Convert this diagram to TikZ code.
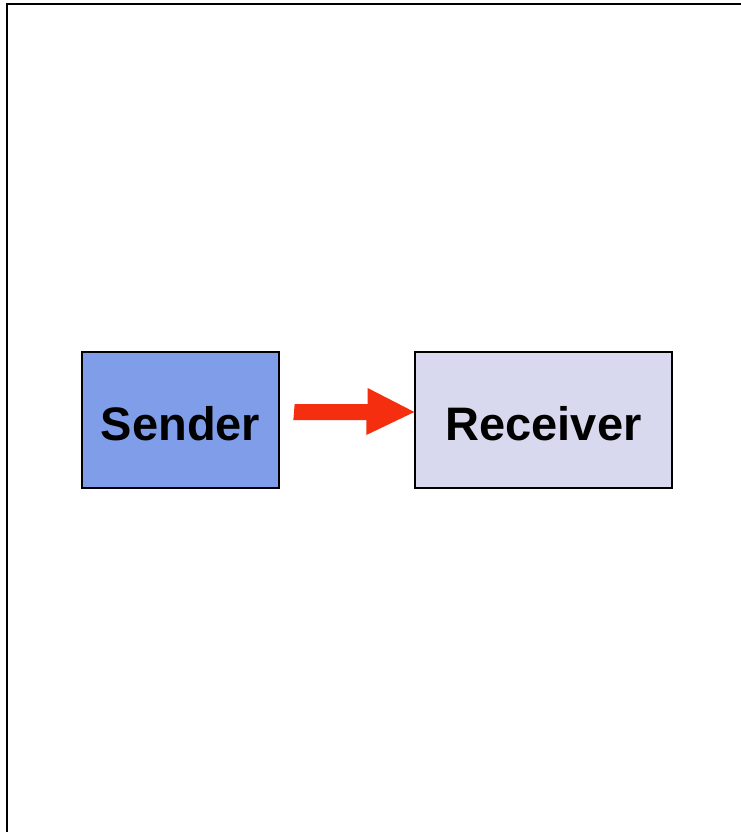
\documentclass[tikz,border=0pt]{standalone}
\usepackage{fontspec}
\setmainfont{Liberation Sans}
\definecolor{senderfill}{HTML}{7F9DE8}
\definecolor{receiverfill}{HTML}{D8D9EE}
\definecolor{arrowred}{HTML}{F52E0F}
\begin{document}
\begin{tikzpicture}[x=1pt,y=-1pt,
  box/.style={draw=black, line width=1.3pt, inner sep=0pt, text height=40pt, text depth=0pt, font=\fontsize{47}{50}\selectfont\bfseries},
  fatarrow/.style={fill=arrowred, draw=none}]
\useasboundingbox (0,0) rectangle (740,832);
\fill[white] (0,0) rectangle (740,832);
\draw[line width=2pt] (7,845) -- (7,4) -- (760,4);
\node[box, fill=senderfill, minimum width=197pt, minimum height=136pt] (sender) at (180.5,420) {Sender};
\node[box, fill=receiverfill, minimum width=257pt, minimum height=136pt] (receiver) at (543.5,420) {Receiver};
\coordinate (tail) at ([xshift=15pt,yshift=8pt]sender.east);
\coordinate (tip) at ([yshift=8pt]receiver.west);
\fill[fatarrow] (tail) ++(0,-8) -- ++(73,0) -- ++(0,-16) -- (tip) -- ++(-48,23) -- ++(0,-15) -- ++(-73,0) -- cycle;
\end{tikzpicture}
\end{document}
